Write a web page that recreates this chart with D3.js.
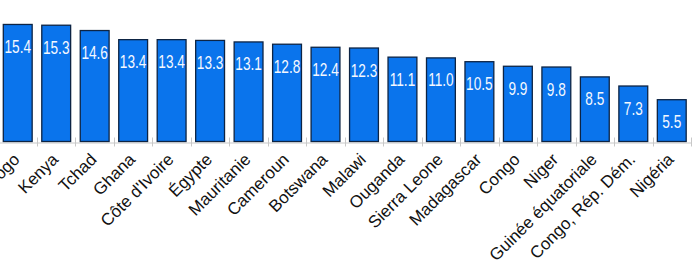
<!DOCTYPE html>
<html>
<head>
<meta charset="utf-8">
<script src="https://cdn.jsdelivr.net/npm/d3@7"></script>
<style>
  body { margin: 0; background: #fff; }
  svg { display: block; }
</style>
</head>
<body>
<div id="chart-area"></div>
<script>
// pays et valeurs
var pays = ["Togo", "Kenya", "Tchad", "Ghana", "Côte d'Ivoire", "Égypte", "Mauritanie",
	"Cameroun", "Botswana", "Malawi", "Ouganda", "Sierra Leone", "Madagascar", "Congo",
	"Niger", "Guinée équatoriale", "Congo, Rép. Dém.", "Nigéria"];
var valeurs = [15.4, 15.3, 14.6, 13.4, 13.4, 13.3, 13.1, 12.8, 12.4, 12.3, 11.1, 11.0,
	10.5, 9.9, 9.8, 8.5, 7.3, 5.5];

var width = 700;
var height = 269;
var base_y = 141.5;

var svg = d3.select("#chart-area").append("svg")
	.attr("width", width)
	.attr("height", height);

var x = d3.scaleBand()
	.domain(pays)
	.range([-1.5, 691])
	.paddingInner(0.25)
	.paddingOuter(0.125);

var y = d3.scaleLinear()
	.domain([0, 16])
	.range([base_y, base_y - 16 * 7.6]);

var step = x.step();

// axe et graduations
svg.append("line")
	.attr("x1", 0).attr("x2", 691)
	.attr("y1", base_y + 1.5).attr("y2", base_y + 1.5)
	.style("stroke", "#c8c8c8")
	.style("stroke-width", 1);

svg.selectAll(".tick")
	.data(d3.range(1, pays.length + 1))
	.enter()
	.append("line")
		.attr("class", "tick")
		.attr("x1", function(i){ return Math.round(x.range()[0] + i * step) + 0.5; })
		.attr("x2", function(i){ return Math.round(x.range()[0] + i * step) + 0.5; })
		.attr("y1", base_y - 4)
		.attr("y2", base_y + 5)
		.style("stroke", "#c8c8c8")
		.style("stroke-width", 1);

var data = pays.map(function(p, i){ return { pays: p, valeur: valeurs[i] }; });

svg.selectAll("rect")
	.data(data)
	.enter()
	.append("rect")
		.attr("x", function(d){ return x(d.pays); })
		.attr("y", function(d){ return y(d.valeur); })
		.attr("width", x.bandwidth())
		.attr("height", function(d){ return base_y - y(d.valeur); })
		.style("fill", "#0a74ec")
		.style("stroke", "#0d2444")
		.style("stroke-width", 1.3);

// valeurs dans les barres
svg.selectAll(".val")
	.data(data)
	.enter()
	.append("text")
		.attr("class", "val")
		.attr("transform", function(d){
			return "translate(" + (x(d.pays) + x.bandwidth() / 2) + "," + (y(d.valeur) + 28.5) + ") scale(0.78,1)";
		})
		.attr("text-anchor", "middle")
		.style("font-family", "'Liberation Sans', Arial, sans-serif")
		.style("font-size", "17.5px")
		.style("fill", "#f4f8ff")
		.text(function(d){ return d.valeur.toFixed(1); });

// noms des pays
svg.selectAll(".lab")
	.data(data)
	.enter()
	.append("text")
		.attr("class", "lab")
		.attr("transform", function(d){
			return "translate(" + (x(d.pays) + x.bandwidth() / 2 + 3) + "," + (base_y + 19) + ") rotate(-45)";
		})
		.attr("text-anchor", "end")
		.style("font-family", "'Liberation Sans', Arial, sans-serif")
		.style("font-size", "17px")
		.style("fill", "#111")
		.text(function(d){ return d.pays; });
</script>
</body>
</html>
